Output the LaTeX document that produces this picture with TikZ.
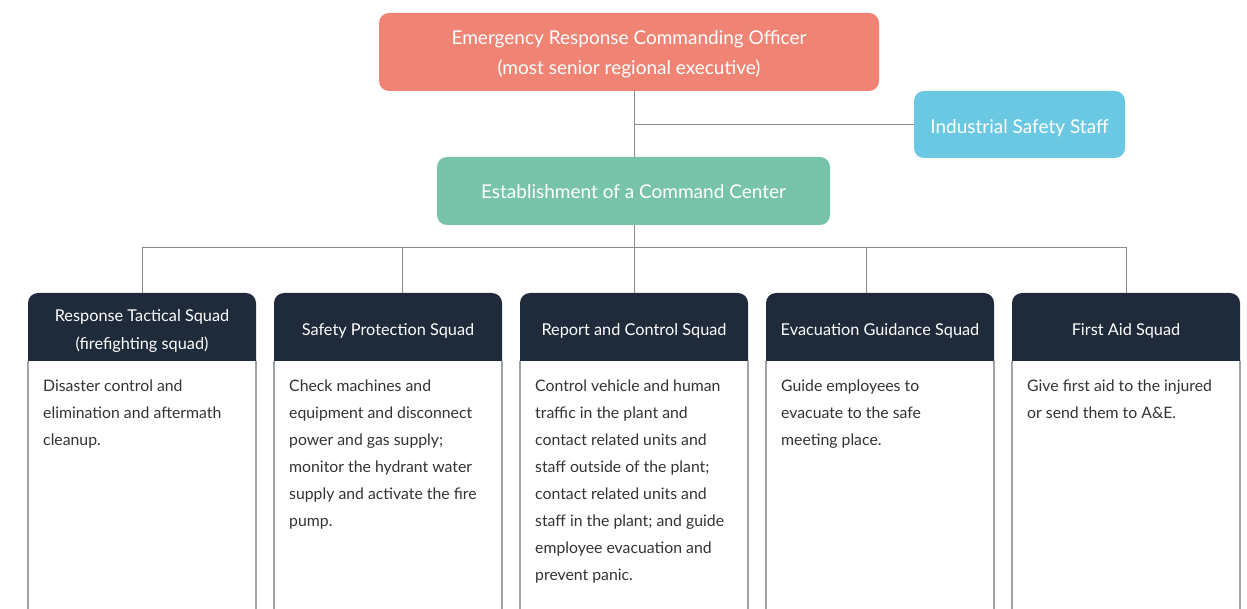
\documentclass[tikz,border=0pt]{standalone}
\usepackage{fontspec}
\setmainfont{Lato}
\definecolor{salmon}{HTML}{EF8474}
\definecolor{teal}{HTML}{77C4AA}
\definecolor{skyb}{HTML}{6BC8E2}
\definecolor{navy}{HTML}{1F2A3B}
\definecolor{linegray}{HTML}{8A8A8A}
\definecolor{bordergray}{HTML}{A0A4A8}
\definecolor{bodytext}{HTML}{333333}
\newcommand{\lift}[1]{\rule{0pt}{#1}}
\begin{document}
\begin{tikzpicture}[x=1pt,y=-1pt,
  topbox/.style={rounded corners=10pt, inner sep=0pt, text=white, align=center,
    font=\fontsize{19}{29}\selectfont},
  headbox/.style={inner sep=0pt, text=white, align=center,
    minimum width=228pt, minimum height=68pt, font=\fontsize{16.3}{27}\selectfont},
  bodytxt/.style={anchor=north west, inner sep=0pt, align=left, text=bodytext,
    font=\fontsize{15.8}{27}\selectfont},
  conn/.style={draw=linegray, line width=0.9pt},
  border/.style={draw=bordergray, line width=1.3pt}
]
\useasboundingbox (0,0) rectangle (1247,609);
\clip (0,0) rectangle (1247,609);
\fill[white] (0,0) rectangle (1247,609);

% top level
\node[topbox, fill=salmon, minimum width=500pt, minimum height=78pt] (top) at (629,52)
  {\lift{18pt}Emergency Response Commanding Officer\\[1pt](most senior regional executive)};
\node[topbox, fill=skyb, minimum width=211pt, minimum height=67pt] (iss) at (1019.5,124.5)
  {\lift{22pt}Industrial Safety Staff};
\node[topbox, fill=teal, minimum width=393pt, minimum height=68pt] (cc) at (633.5,191)
  {\lift{16pt}Establishment of a Command Center};

\coordinate (bus) at (634,247);
\coordinate (d1) at (142,247);
\coordinate (d2) at (402,247);
\coordinate (d4) at (866,247);
\coordinate (d5) at (1126,247);

\draw[conn] (top.south -| bus) -- (cc.north -| bus);
\draw[conn] (iss.west) -- (iss.west -| bus);
\draw[conn] (cc.south -| bus) -- (bus);
\draw[conn] (d1) -- (d5);

% squad columns: header shapes and body borders
\foreach \cx in {142, 388, 634, 880, 1126} {
  \draw[border] (\cx-114,361) -- (\cx-114,640);
  \draw[border] (\cx+114,361) -- (\cx+114,640);
  \fill[navy] (\cx-114,361) [rounded corners=10pt] -- (\cx-114,293) -- (\cx+114,293)
    [sharp corners] -- (\cx+114,361) -- cycle;
}
\node[headbox] (s1) at (142,327) {\lift{19pt}Response Tactical Squad\\[1pt](firefighting squad)};
\node[headbox] (s2) at (388,327) {\lift{20pt}Safety Protection Squad};
\node[headbox] (s3) at (634,327) {\lift{20pt}Report and Control Squad};
\node[headbox] (s4) at (880,327) {\lift{20pt}Evacuation Guidance Squad};
\node[headbox] (s5) at (1126,327) {\lift{20pt}First Aid Squad};

\draw[conn] (d1) -- (d1 |- s1.north);
\draw[conn] (d2) -- (d2 |- s2.north);
\draw[conn] (bus) -- (bus |- s3.north);
\draw[conn] (d4) -- (d4 |- s4.north);
\draw[conn] (d5) -- (d5 |- s5.north);

\node[bodytxt] (b1) at (43,380) {Disaster control and\\elimination and aftermath\\cleanup.};
\node[bodytxt] (b2) at (289,380) {Check machines and\\equipment and disconnect\\power and gas supply;\\monitor the hydrant water\\supply and activate the fire\\pump.};
\node[bodytxt] (b3) at (535,380) {Control vehicle and human\\traffic in the plant and\\contact related units and\\staff outside of the plant;\\contact related units and\\staff in the plant; and guide\\employee evacuation and\\prevent panic.};
\node[bodytxt] (b4) at (781,380) {Guide employees to\\evacuate to the safe\\meeting place.};
\node[bodytxt] (b5) at (1027,380) {Give first aid to the injured\\or send them to A\&E.};
\end{tikzpicture}
\end{document}
